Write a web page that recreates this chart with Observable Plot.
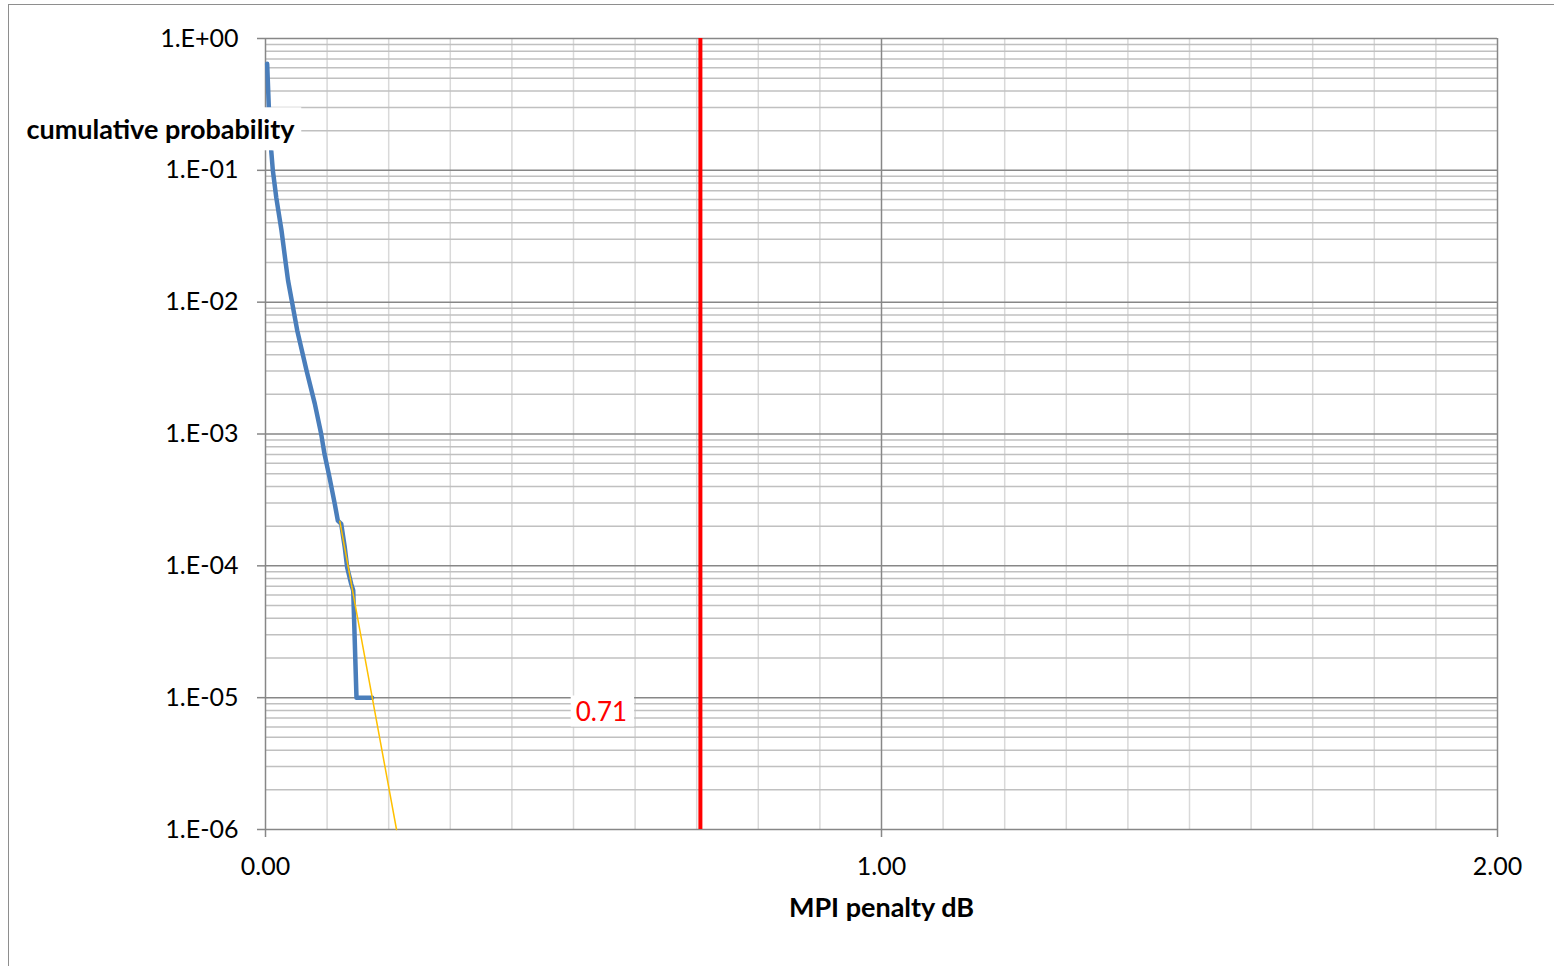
<!DOCTYPE html>
<html><head><meta charset="utf-8">
<script src="https://cdn.jsdelivr.net/npm/d3@7"></script>
<script src="https://cdn.jsdelivr.net/npm/@observablehq/plot@0.6"></script>
<style>
html,body{margin:0;padding:0;background:#fff;overflow:hidden}
#wrap{position:relative;width:1554px;height:966px;overflow:hidden}
#chart{position:absolute;left:0;top:0}
#border{position:absolute;left:8px;top:4px;width:1600px;height:1000px;border-left:1.5px solid #8e8e8e;border-top:1.5px solid #8e8e8e;pointer-events:none}
</style></head><body>
<div id="wrap"><div id="chart"></div><div id="border"></div></div>
<script>
// measured cumulative probability curve (blue)
const blueX = [0.0027,0.0054,0.0093,0.0119,0.0174,0.026,0.033,0.0366,0.0433,0.0515,0.0666,0.080,0.0904,0.0958,0.1039,0.1125,0.1174,0.1229,0.1287,0.1326,0.1391,0.1424,0.1477,0.1732];
const blueY = [0.643,0.301,0.141,0.1,0.0625,0.0349,0.0195,0.0146,0.00988,0.0061,0.00303,0.0017,0.001,7.05e-4,4.69e-4,2.94e-4,2.2e-4,2.08e-4,1.38e-4,9.7e-5,7.3e-5,6.5e-5,1e-5,1e-5];
// extrapolated tail (yellow)
const fitX = [0.1206, 0.2127];
const fitY = [2.18e-4, 1e-6];
// threshold (red)
const thresholdX = [0.706];
const thresholdY = [1e-5];
const thresholdLabel = ["0.71"];
// axes
const yMajor = [1e-6,1e-5,1e-4,1e-3,1e-2,1e-1,1];
const yTickLabels = ["1.E-06","1.E-05","1.E-04","1.E-03","1.E-02","1.E-01","1.E+00"];
const yMinorDigits = [2,3,4,5,6,7,8,9];
const xMajor = [0,1,2];
const xTickLabels = ["0.00","1.00","2.00"];
const xMinor = [0.1,0.2,0.3,0.4,0.5,0.6,0.7,0.8,0.9,1.1,1.2,1.3,1.4,1.5,1.6,1.7,1.8,1.9];
const xTitle = ["MPI penalty dB"];
const yTitle = ["cumulative probability"];

const yMinor = yMajor.slice(0,-1).flatMap(d => yMinorDigits.map(k => d*k));
const blue = blueX.map((x,i) => ({x, y: blueY[i]}));
const fit = fitX.map((x,i) => ({x, y: fitY[i]}));

const font = "Lato, 'Open Sans', sans-serif";
const plot = Plot.plot({
  width: 1554, height: 966,
  marginLeft: 265, marginRight: 57, marginTop: 38, marginBottom: 137,
  style: {fontFamily: font, fontSize: "25px", color: "#000", background: "transparent"},
  x: {domain: [0, 2]},
  y: {type: "log", domain: [1e-6, 1]},
  marks: [
    Plot.ruleX(xMinor, {stroke: "#d9d9d9", strokeWidth: 1.5}),
    Plot.ruleY(yMinor, {stroke: "#c0c0c0", strokeWidth: 1.5}),
    Plot.ruleY(yMajor, {stroke: "#878787", strokeWidth: 1.5}),
    Plot.ruleX(xMajor, {stroke: "#878787", strokeWidth: 1.5}),
    Plot.axisY({ticks: yMajor, tickFormat: d => yTickLabels[yMajor.indexOf(d)], tickSize: 8, tickPadding: 19, stroke: "#878787", strokeWidth: 1.5, fill: "#000", label: null, fontSize: 25}),
    Plot.axisX({ticks: xMajor, tickFormat: d => xTickLabels[xMajor.indexOf(d)], tickSize: 8, tickPadding: 20, stroke: "#878787", strokeWidth: 1.5, fill: "#000", label: null, fontSize: 25}),
    Plot.line(blue, {x: "x", y: "y", stroke: "#4A7EBB", strokeWidth: 4.5, strokeLinejoin: "round"}),
    Plot.line(fit, {x: "x", y: "y", stroke: "#FFC000", strokeWidth: 1.5}),
    Plot.ruleX(thresholdX, {stroke: "#FF0000", strokeWidth: 4}),
    Plot.text(thresholdLabel, {x: thresholdX, y: thresholdY, text: d => d, dx: -99, dy: 15, fill: "#FF0000", fontSize: 26, ariaLabel: () => "boxed-small"}),
    Plot.text(xTitle, {frameAnchor: "bottom", lineAnchor: "middle", dy: 79, text: d => d, fontWeight: "bold", fontSize: 27}),
    Plot.text(yTitle, {x: [0], y: [0.2], text: d => d, textAnchor: "end", dx: 29, fontWeight: "bold", fontSize: 27, ariaLabel: () => "boxed-title"})
  ]
});
document.getElementById("chart").appendChild(plot);

function boxIt(label, padL, padR, halfH) {
  plot.querySelectorAll(`[aria-label="${label}"]`).forEach(el => {
    const t = el.tagName.toLowerCase() === "text" ? el : el.querySelector("text");
    if (!t) return;
    const b = t.getBBox();
    const cy = b.y + b.height / 2;
    const r = document.createElementNS("http://www.w3.org/2000/svg", "rect");
    r.setAttribute("x", b.x - padL);
    r.setAttribute("y", cy - halfH);
    r.setAttribute("width", b.width + padL + padR);
    r.setAttribute("height", 2 * halfH);
    r.setAttribute("fill", "#fff");
    const tr = t.getAttribute("transform");
    if (tr) r.setAttribute("transform", tr);
    t.parentNode.insertBefore(r, t);
  });
}
boxIt("boxed-small", 5, 7, 15.5);
boxIt("boxed-title", 10, 6, 21.5);
</script>
</body></html>
